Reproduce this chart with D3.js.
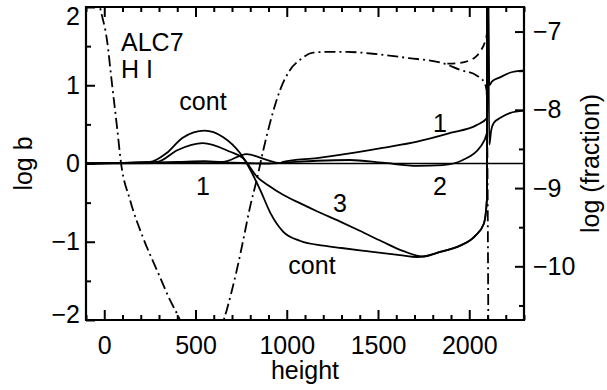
<!DOCTYPE html>
<html>
<head>
<meta charset="utf-8">
<script src="https://cdn.jsdelivr.net/npm/d3@7"></script>
<style>
  body { margin: 0; background: #fff; }
  svg text { font-family: "Liberation Sans", Arial, Helvetica, sans-serif; fill: #000; }
</style>
</head>
<body>
<div id="chart"></div>
<script>
// departure coefficients, log b (left axis)
var contH = [-100, 250, 340, 430, 550, 650, 745, 800, 855, 910, 980, 1075, 1200, 1300, 1440, 1620, 1715, 1840, 1950, 2030, 2080, 2097, 2100];
var contB = [0, 0.02, 0.13, 0.33, 0.42, 0.34, 0.13, -0.08, -0.34, -0.63, -0.87, -0.99, -1.05, -1.08, -1.12, -1.17, -1.195, -1.13, -1.05, -0.93, -0.77, -0.45, 3];

var l3H = [-100, 290, 400, 540, 690, 760, 837, 900, 980, 1075, 1165, 1290, 1400, 1525, 1640, 1750, 1840, 1950, 2030, 2080, 2097, 2100];
var l3B = [0, 0.02, 0.17, 0.26, 0.15, 0.07, -0.17, -0.28, -0.4, -0.51, -0.61, -0.74, -0.86, -1.0, -1.12, -1.19, -1.13, -1.05, -0.93, -0.77, -0.45, 3];

var l1H = [-100, 200, 400, 550, 650, 780, 890, 960, 980, 1165, 1345, 1525, 1715, 1895, 2040, 2097, 2100, 2110, 2125, 2168, 2222, 2300];
var l1B = [0, 0.01, 0.02, 0.03, 0.02, 0.12, 0.045, 0.005, 0.02, 0.07, 0.13, 0.2, 0.28, 0.39, 0.49, 0.58, 3, 1.0, 1.05, 1.1, 1.16, 1.19];

var l2H = [-100, 300, 550, 700, 900, 980, 1165, 1345, 1525, 1715, 1855, 1965, 2060, 2097, 2100, 2110, 2120, 2135, 2168, 2222, 2300];
var l2B = [0, 0.005, 0.02, 0.01, 0, 0.01, 0.035, 0.045, 0.01, -0.03, -0.02, 0.045, 0.21, 0.39, 3, 0.24, 0.42, 0.52, 0.58, 0.645, 0.675];

// log (fraction) (right axis)
var fracH = [-60, -23, 15, 42, 70, 92, 141, 212, 289, 360, 415, 460, 520, 600, 640, 655, 671, 726, 762, 799, 835, 872, 908, 963, 1018, 1073, 1144, 1219, 1330, 1500, 1670, 1850, 1950, 2040, 2080, 2095, 2106];
var fracV = [-6.25, -6.69, -7.11, -7.66, -8.22, -8.68, -9.15, -9.63, -10.05, -10.43, -10.69, -11.0, -11.3, -11.3, -10.9, -10.69, -10.56, -10.05, -9.66, -9.24, -8.9, -8.51, -8.17, -7.75, -7.49, -7.36, -7.27, -7.26, -7.26, -7.29, -7.34, -7.4, -7.49, -7.56, -7.64, -7.75, -11.5];

var fracBrH = [1880, 1950, 2000, 2032, 2064, 2086, 2097, 2100];
var fracBrV = [-7.41, -7.4, -7.37, -7.33, -7.24, -7.13, -7.02, -6.3];

var xMajor = [0, 500, 1000, 1500, 2000];
var leftMajor = [-2, -1, 0, 1, 2];
var rightMajor = [-10, -9, -8, -7];

var width = 607, height = 390;
var x0 = 86, x1 = 524, yTop = 7, yBot = 320;

var svg = d3.select("#chart").append("svg")
  .attr("width", width)
  .attr("height", height);

var x = d3.scaleLinear().domain([-100, 2300]).range([x0, x1]);
var yL = d3.scaleLinear().domain([-2, 2]).range([yBot, yTop]);
var yR = d3.scaleLinear().domain([-10.686, -6.686]).range([yBot, yTop]);

svg.append("clipPath").attr("id", "clip")
  .append("rect").attr("x", x0).attr("y", yTop).attr("width", x1 - x0).attr("height", yBot - yTop);

function pairs(h, v) { return h.map(function(d, i) { return [d, v[i]]; }); }

var plot = svg.append("g").attr("clip-path", "url(#clip)");

// zero line
plot.append("line")
  .attr("x1", x0).attr("x2", x1)
  .attr("y1", yL(0)).attr("y2", yL(0))
  .style("stroke", "#000").style("stroke-width", 1.6);

var lineL = d3.line().x(function(d) { return x(d[0]); }).y(function(d) { return yL(d[1]); }).curve(d3.curveMonotoneX);
var lineR = d3.line().x(function(d) { return x(d[0]); }).y(function(d) { return yR(d[1]); }).curve(d3.curveMonotoneX);

[[contH, contB], [l3H, l3B], [l1H, l1B], [l2H, l2B]].forEach(function(s) {
  plot.append("path")
    .attr("d", lineL(pairs(s[0], s[1])))
    .style("fill", "none").style("stroke", "#000").style("stroke-width", 1.8);
});

plot.append("path")
  .attr("d", lineR(pairs(fracH, fracV)))
  .style("fill", "none").style("stroke", "#000").style("stroke-width", 1.8)
  .style("stroke-dasharray", "11,4,2,4");

plot.append("path")
  .attr("d", lineR(pairs(fracBrH, fracBrV)))
  .style("fill", "none").style("stroke", "#000").style("stroke-width", 1.8)
  .style("stroke-dasharray", "8,5");

// axes
function styleAxis(g) {
  g.select(".domain").remove();
  g.selectAll(".tick line").style("stroke", "#000").style("stroke-width", 2);
  g.selectAll("text").style("font-size", "25px").style("fill", "#000");
}

var xMinor = d3.range(-100, 2301, 100).filter(function(d) { return xMajor.indexOf(d) < 0; });
var fmt = d3.format("d");

svg.append("g").attr("transform", "translate(0," + yBot + ")")
  .call(d3.axisBottom(x).tickValues(xMajor).tickSizeInner(-10).tickSizeOuter(0).tickPadding(16).tickFormat(fmt))
  .call(styleAxis);
svg.append("g").attr("transform", "translate(0," + yBot + ")")
  .call(d3.axisBottom(x).tickValues(xMinor).tickSizeInner(-5).tickSizeOuter(0).tickFormat(""))
  .call(styleAxis);
svg.append("g").attr("transform", "translate(0," + yTop + ")")
  .call(d3.axisTop(x).tickValues(xMajor).tickSizeInner(-10).tickSizeOuter(0).tickFormat(""))
  .call(styleAxis);
svg.append("g").attr("transform", "translate(0," + yTop + ")")
  .call(d3.axisTop(x).tickValues(xMinor).tickSizeInner(-5).tickSizeOuter(0).tickFormat(""))
  .call(styleAxis);

var leftAxis = svg.append("g").attr("transform", "translate(" + x0 + ",0)")
  .call(d3.axisLeft(yL).tickValues(leftMajor).tickSizeInner(-9).tickSizeOuter(0).tickPadding(6).tickFormat(fmt))
  .call(styleAxis);
// end labels sit inside the frame height
leftAxis.selectAll(".tick text")
  .attr("dy", function(d) { return d === 2 ? "0.7em" : d === -2 ? "0.1em" : "0.32em"; });
svg.append("g").attr("transform", "translate(" + x0 + ",0)")
  .call(d3.axisLeft(yL).tickValues([-1.5, -0.5, 0.5, 1.5]).tickSizeInner(-5).tickSizeOuter(0).tickFormat(""))
  .call(styleAxis);

svg.append("g").attr("transform", "translate(" + x1 + ",0)")
  .call(d3.axisRight(yR).tickValues(rightMajor).tickSizeInner(-9).tickSizeOuter(0).tickPadding(9).tickFormat(fmt))
  .call(styleAxis);
svg.append("g").attr("transform", "translate(" + x1 + ",0)")
  .call(d3.axisRight(yR).tickValues([-10.5, -9.5, -8.5, -7.5]).tickSizeInner(-5).tickSizeOuter(0).tickFormat(""))
  .call(styleAxis);

// frame
svg.append("path")
  .attr("d", "M" + x0 + "," + yTop + "H" + x1 + "V" + yBot + "H" + x0 + "Z")
  .style("fill", "none").style("stroke", "#000").style("stroke-width", 2.2);

// axis titles
svg.append("text").attr("x", (x0 + x1) / 2).attr("y", 379)
  .attr("text-anchor", "middle").style("font-size", "25px").text("height");
svg.append("text").attr("transform", "translate(32," + yL(0) + ") rotate(-90)")
  .attr("text-anchor", "middle").style("font-size", "25px").text("log  b");
svg.append("text").attr("transform", "translate(599," + yL(0) + ") rotate(-90)")
  .attr("text-anchor", "middle").style("font-size", "25px").text("log (fraction)");

// annotations
var notes = [
  ["ALC7", 121, 51, "start"],
  ["H I", 121, 78, "start"],
  ["cont", 203, 110, "middle"],
  ["1", 203, 195, "middle"],
  ["1", 440, 132, "middle"],
  ["2", 440, 195, "middle"],
  ["3", 340, 212, "middle"],
  ["cont", 312, 274, "middle"]
];
svg.selectAll(".note").data(notes).enter().append("text")
  .attr("class", "note")
  .attr("x", function(d) { return d[1]; })
  .attr("y", function(d) { return d[2]; })
  .attr("text-anchor", function(d) { return d[3]; })
  .style("font-size", "25px")
  .text(function(d) { return d[0]; });
</script>
</body>
</html>
